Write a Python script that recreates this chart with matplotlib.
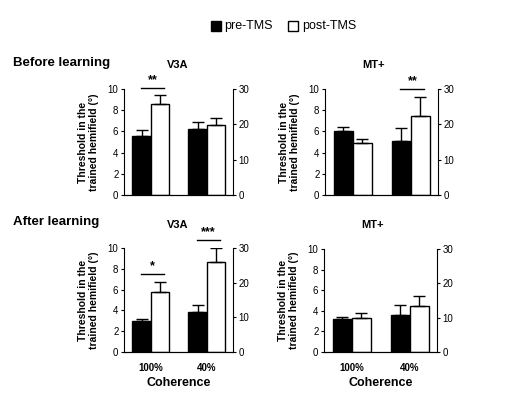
import numpy as np
import matplotlib
matplotlib.use('Agg')
import matplotlib.pyplot as plt
from matplotlib.patches import Rectangle

plt.rcParams['font.family'] = ['Liberation Sans', 'DejaVu Sans']

groups = ['100%', '40%']

# before learning
bv3a_pre = [5.6, 6.2]
bv3a_pre_err = [0.5, 0.7]
bv3a_post = [8.55, 6.65]
bv3a_post_err = [0.85, 0.65]
bmt_pre = [6.0, 5.05]
bmt_pre_err = [0.4, 1.25]
bmt_post = [4.9, 7.45]
bmt_post_err = [0.4, 1.75]

# after learning
av3a_pre = [2.95, 3.8]
av3a_pre_err = [0.2, 0.7]
av3a_post = [5.75, 8.65]
av3a_post_err = [0.95, 1.35]
amt_pre = [3.25, 3.6]
amt_pre_err = [0.15, 0.95]
amt_post = [3.33, 4.45]
amt_post_err = [0.45, 1.0]

W, H = 513, 398
fig = plt.figure(figsize=(W / 100, H / 100), dpi=100)

def px_axes(l, t, r, b):
    return fig.add_axes([l / W, 1 - b / H, (r - l) / W, (b - t) / H])

def panel(ax, pre, pre_err, post, post_err, sig, bottom_row):
    x = np.arange(len(groups))
    bw = 0.33
    ax.bar(x - bw / 2, pre, bw, color='black', edgecolor='black', lw=1)
    ax.bar(x + bw / 2, post, bw, color='white', edgecolor='black', lw=1)
    ax.errorbar(x - bw / 2, pre, yerr=[np.zeros(2), pre_err], fmt='none',
                ecolor='black', elinewidth=1, capsize=4, capthick=1)
    ax.errorbar(x + bw / 2, post, yerr=[np.zeros(2), post_err], fmt='none',
                ecolor='black', elinewidth=1, capsize=4, capthick=1)
    ax.set_xlim(-0.48, 1.47)
    ax.set_ylim(0, 10)
    ax.set_yticks([0, 2, 4, 6, 8, 10])
    ax.tick_params(axis='y', labelsize=7, length=2, width=0.8, pad=2)
    ax.spines['top'].set_visible(False)
    ax.spines['right'].set_visible(False)
    if bottom_row:
        ax.set_xticks(x)
        ax.set_xticklabels(groups, fontsize=7, fontweight='bold')
        ax.tick_params(axis='x', length=0, pad=8)
        ax.set_xlabel('Coherence', fontsize=9, fontweight='bold', labelpad=3)
    else:
        ax.set_xticks([])
    ax.set_ylabel('Threshold in the\ntrained hemifield (°)', fontsize=7.5,
                  fontweight='bold', labelpad=6, linespacing=1.15)
    for gi, stars, h in sig:
        ax.plot([gi - 0.18, gi + 0.23], [h, h], color='black', lw=1, clip_on=False)
        ax.text(gi + 0.03, h + 0.15, stars, ha='center', va='bottom', fontsize=9,
                fontweight='bold', clip_on=False)
    ax2 = ax.twinx()
    ax2.set_ylim(0, 30)
    ax2.set_yticks([0, 10, 20, 30])
    ax2.tick_params(axis='y', labelsize=7, length=2, width=0.8, pad=2)
    ax2.spines['top'].set_visible(False)
    ax2.spines['left'].set_visible(False)
    return ax

a = px_axes(124, 89, 233, 195)
panel(a, bv3a_pre, bv3a_pre_err, bv3a_post, bv3a_post_err, [(0, '**', 10.1)], False)
a = px_axes(325, 89, 438, 195)
panel(a, bmt_pre, bmt_pre_err, bmt_post, bmt_post_err, [(1, '**', 10.0)], False)
a = px_axes(124, 248, 233, 352)
panel(a, av3a_pre, av3a_pre_err, av3a_post, av3a_post_err,
      [(0, '*', 7.5), (1, '***', 10.75)], True)
a = px_axes(324, 249, 437, 352)
panel(a, amt_pre, amt_pre_err, amt_post, amt_post_err, [], True)

def ftext(x, y, s, **kw):
    fig.text(x / W, 1 - y / H, s, **kw)

ftext(13, 63, 'Before learning', fontsize=9.5, fontweight='bold', va='center')
ftext(13, 222, 'After learning', fontsize=9.5, fontweight='bold', va='center')
ftext(178, 65, 'V3A', fontsize=8, fontweight='bold', ha='center', va='center')
ftext(374, 65, 'MT+', fontsize=8, fontweight='bold', ha='center', va='center')
ftext(178, 225, 'V3A', fontsize=8, fontweight='bold', ha='center', va='center')
ftext(373, 225, 'MT+', fontsize=8, fontweight='bold', ha='center', va='center')

# legend
fig.patches.append(Rectangle((211 / W, 1 - 31 / H), 10 / W, 10 / H, facecolor='black',
                             edgecolor='black', lw=1, transform=fig.transFigure))
ftext(224, 26, 'pre-TMS', fontsize=9, va='center')
fig.patches.append(Rectangle((288 / W, 1 - 31 / H), 10 / W, 10 / H, facecolor='white',
                             edgecolor='black', lw=1, transform=fig.transFigure))
ftext(302, 26, 'post-TMS', fontsize=9, va='center')

fig.savefig('out.png', dpi=100)
